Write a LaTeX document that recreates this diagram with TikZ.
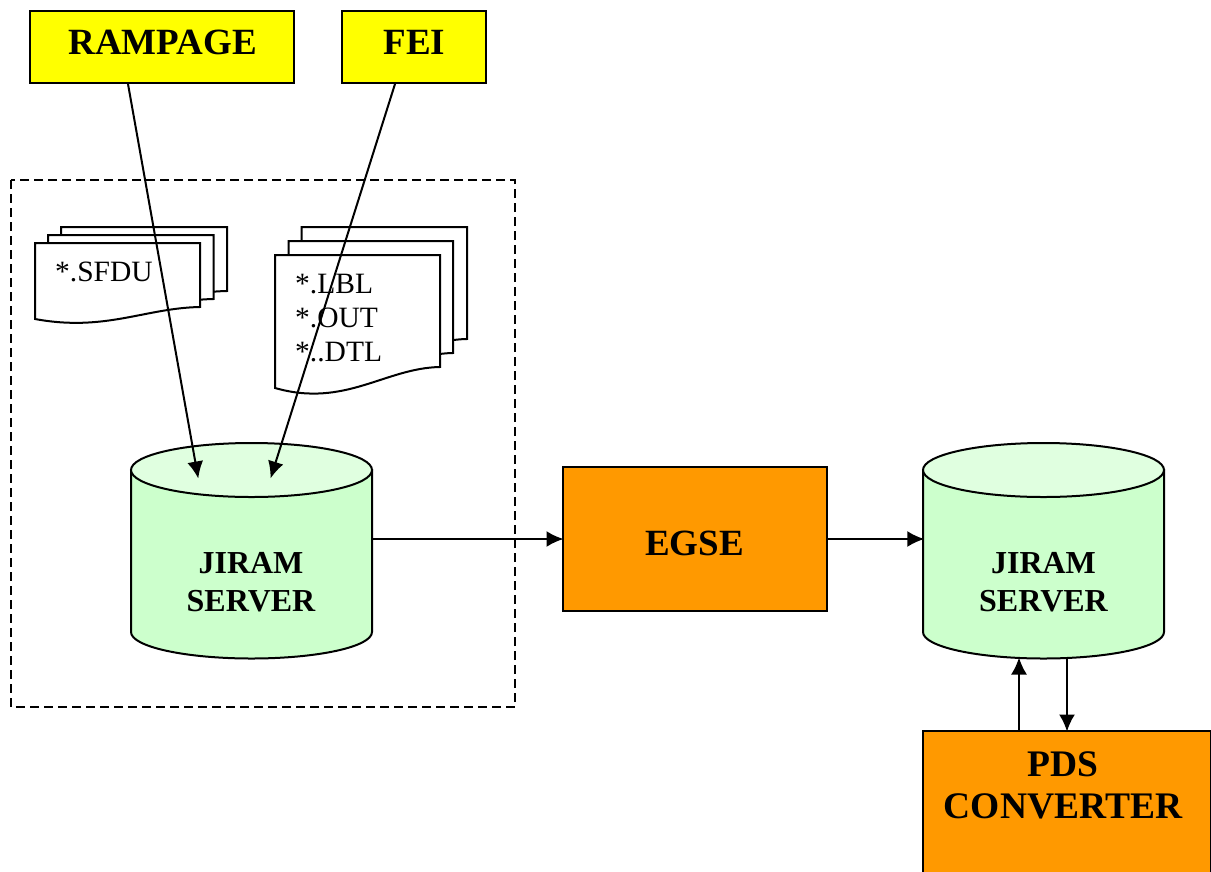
\documentclass[tikz,border=0pt]{standalone}
\usepackage{fontspec}
\setmainfont{Liberation Serif}
\usetikzlibrary{arrows.meta,calc}
\definecolor{boxyellow}{HTML}{FFFF00}
\definecolor{boxorange}{HTML}{FF9900}
\definecolor{cylbody}{HTML}{CCFFCC}
\definecolor{cyltop}{HTML}{E0FFE0}
\tikzset{
  box/.style={draw=black,line width=2pt,inner sep=0pt,anchor=north west},
  bigtext/.style={font=\fontsize{37}{42}\selectfont\bfseries,inner sep=0pt,align=center},
  srvtext/.style={font=\fontsize{32}{37.5}\selectfont\bfseries,inner sep=0pt,align=center},
  doctext/.style={font=\fontsize{29.5}{34}\selectfont,inner sep=0pt,align=left,anchor=north west},
  conn/.style={draw=black,line width=2pt,shorten >=-1.5pt,-{Latex[length=17pt,width=16pt]}},
  docsheet/.style={draw=black,line width=2pt,fill=white,line join=miter},
  cyl/.style={draw=black,line width=2pt},
}
\newcommand{\docpath}[6]{% x0 x1 ytop yleftbottom yrightbottom dip
  (#1,#3) -- (#2,#3) -- (#2,#5) .. controls ({#2-55},{#5+1}) and ({#1+70},{#4+#6}) .. ({#1},#4) -- cycle}
\newcommand{\cylinder}[1]{%
  \path[cyl,fill=cylbody] ({#1},470) -- ({#1},632) arc[start angle=180,end angle=0,x radius=120.5,y radius=26.5] -- ({#1+241},470) -- cycle;
  \path[cyl,fill=cyltop] ({#1+120.5},470) ellipse[x radius=120.5,y radius=27];}
\begin{document}
\begin{tikzpicture}[x=1pt,y=-1pt]
\useasboundingbox (0,0) rectangle (1211,871);
\fill[white] (0,0) rectangle (1211,871);
% dashed group
\draw[black,line width=2pt,dash pattern=on 9pt off 5pt] (11,180) rectangle (515,707);
% documents, left stack
\path[docsheet] \docpath{61}{227}{227}{303}{291}{13};
\path[docsheet] \docpath{48}{213.5}{235}{311}{299}{13};
\path[docsheet] \docpath{35}{200}{243}{319}{307}{13};
\node[doctext] (sfdu) at (55,262) {*.SFDU};
% documents, right stack
\path[docsheet] \docpath{301.5}{467}{227}{360}{339}{20};
\path[docsheet] \docpath{288.5}{453}{241}{374}{353}{20};
\path[docsheet] \docpath{275}{440}{255}{388}{367}{20};
\node[doctext] (lbl) at (295,274) {*.LBL\\*.OUT\\*..DTL};
% servers
\cylinder{131}
\cylinder{923}
\node[minimum width=241pt,minimum height=215pt,inner sep=0pt] (srvA) at (251.5,551) {};
\node[minimum width=241pt,minimum height=215pt,inner sep=0pt] (srvB) at (1043.5,551) {};
\node[srvtext] (srvAt) at (251,582) {JIRAM\\SERVER};
\node[srvtext] (srvBt) at (1043.5,582) {JIRAM\\SERVER};
% boxes
\node[box,fill=boxyellow,minimum width=264pt,minimum height=72pt] (rampage) at (29,10) {};
\node[bigtext,yshift=4.5pt,xshift=0.5pt] (rampaget) at (rampage.center) {RAMPAGE};
\node[box,fill=boxyellow,minimum width=144pt,minimum height=72pt] (fei) at (341,10) {};
\node[bigtext,yshift=4.5pt,xshift=0.5pt] (feit) at (fei.center) {FEI};
\node[box,fill=boxorange,minimum width=264pt,minimum height=144pt] (egse) at (562,466) {};
\node[bigtext,yshift=-4.5pt,xshift=-0.5pt] (egset) at (egse.center) {EGSE};
\node[box,fill=boxorange,minimum width=288pt,minimum height=160pt] (pds) at (922,730) {};
\node[bigtext,font=\fontsize{37.5}{42}\selectfont\bfseries] (pdst) at (1063,785) {PDS\\CONVERTER};
% connectors
\coordinate (inA) at (198,477);
\coordinate (inB) at (271,477);
\coordinate (up) at (1019,659);
\coordinate (down) at (1067,658);
\draw[conn] ($(rampage.south)+(-34,0)$) -- (inA);
\draw[conn] ($(fei.south)+(-19,0)$) -- (inB);
\draw[conn] (egse.west -| srvA.east) -- (egse.west);
\draw[conn] (egse.east) -- (egse.east -| srvB.west);
\draw[conn] (up |- pds.north) -- (up);
\draw[conn] (down) -- (down |- pds.north);
\end{tikzpicture}
\end{document}
